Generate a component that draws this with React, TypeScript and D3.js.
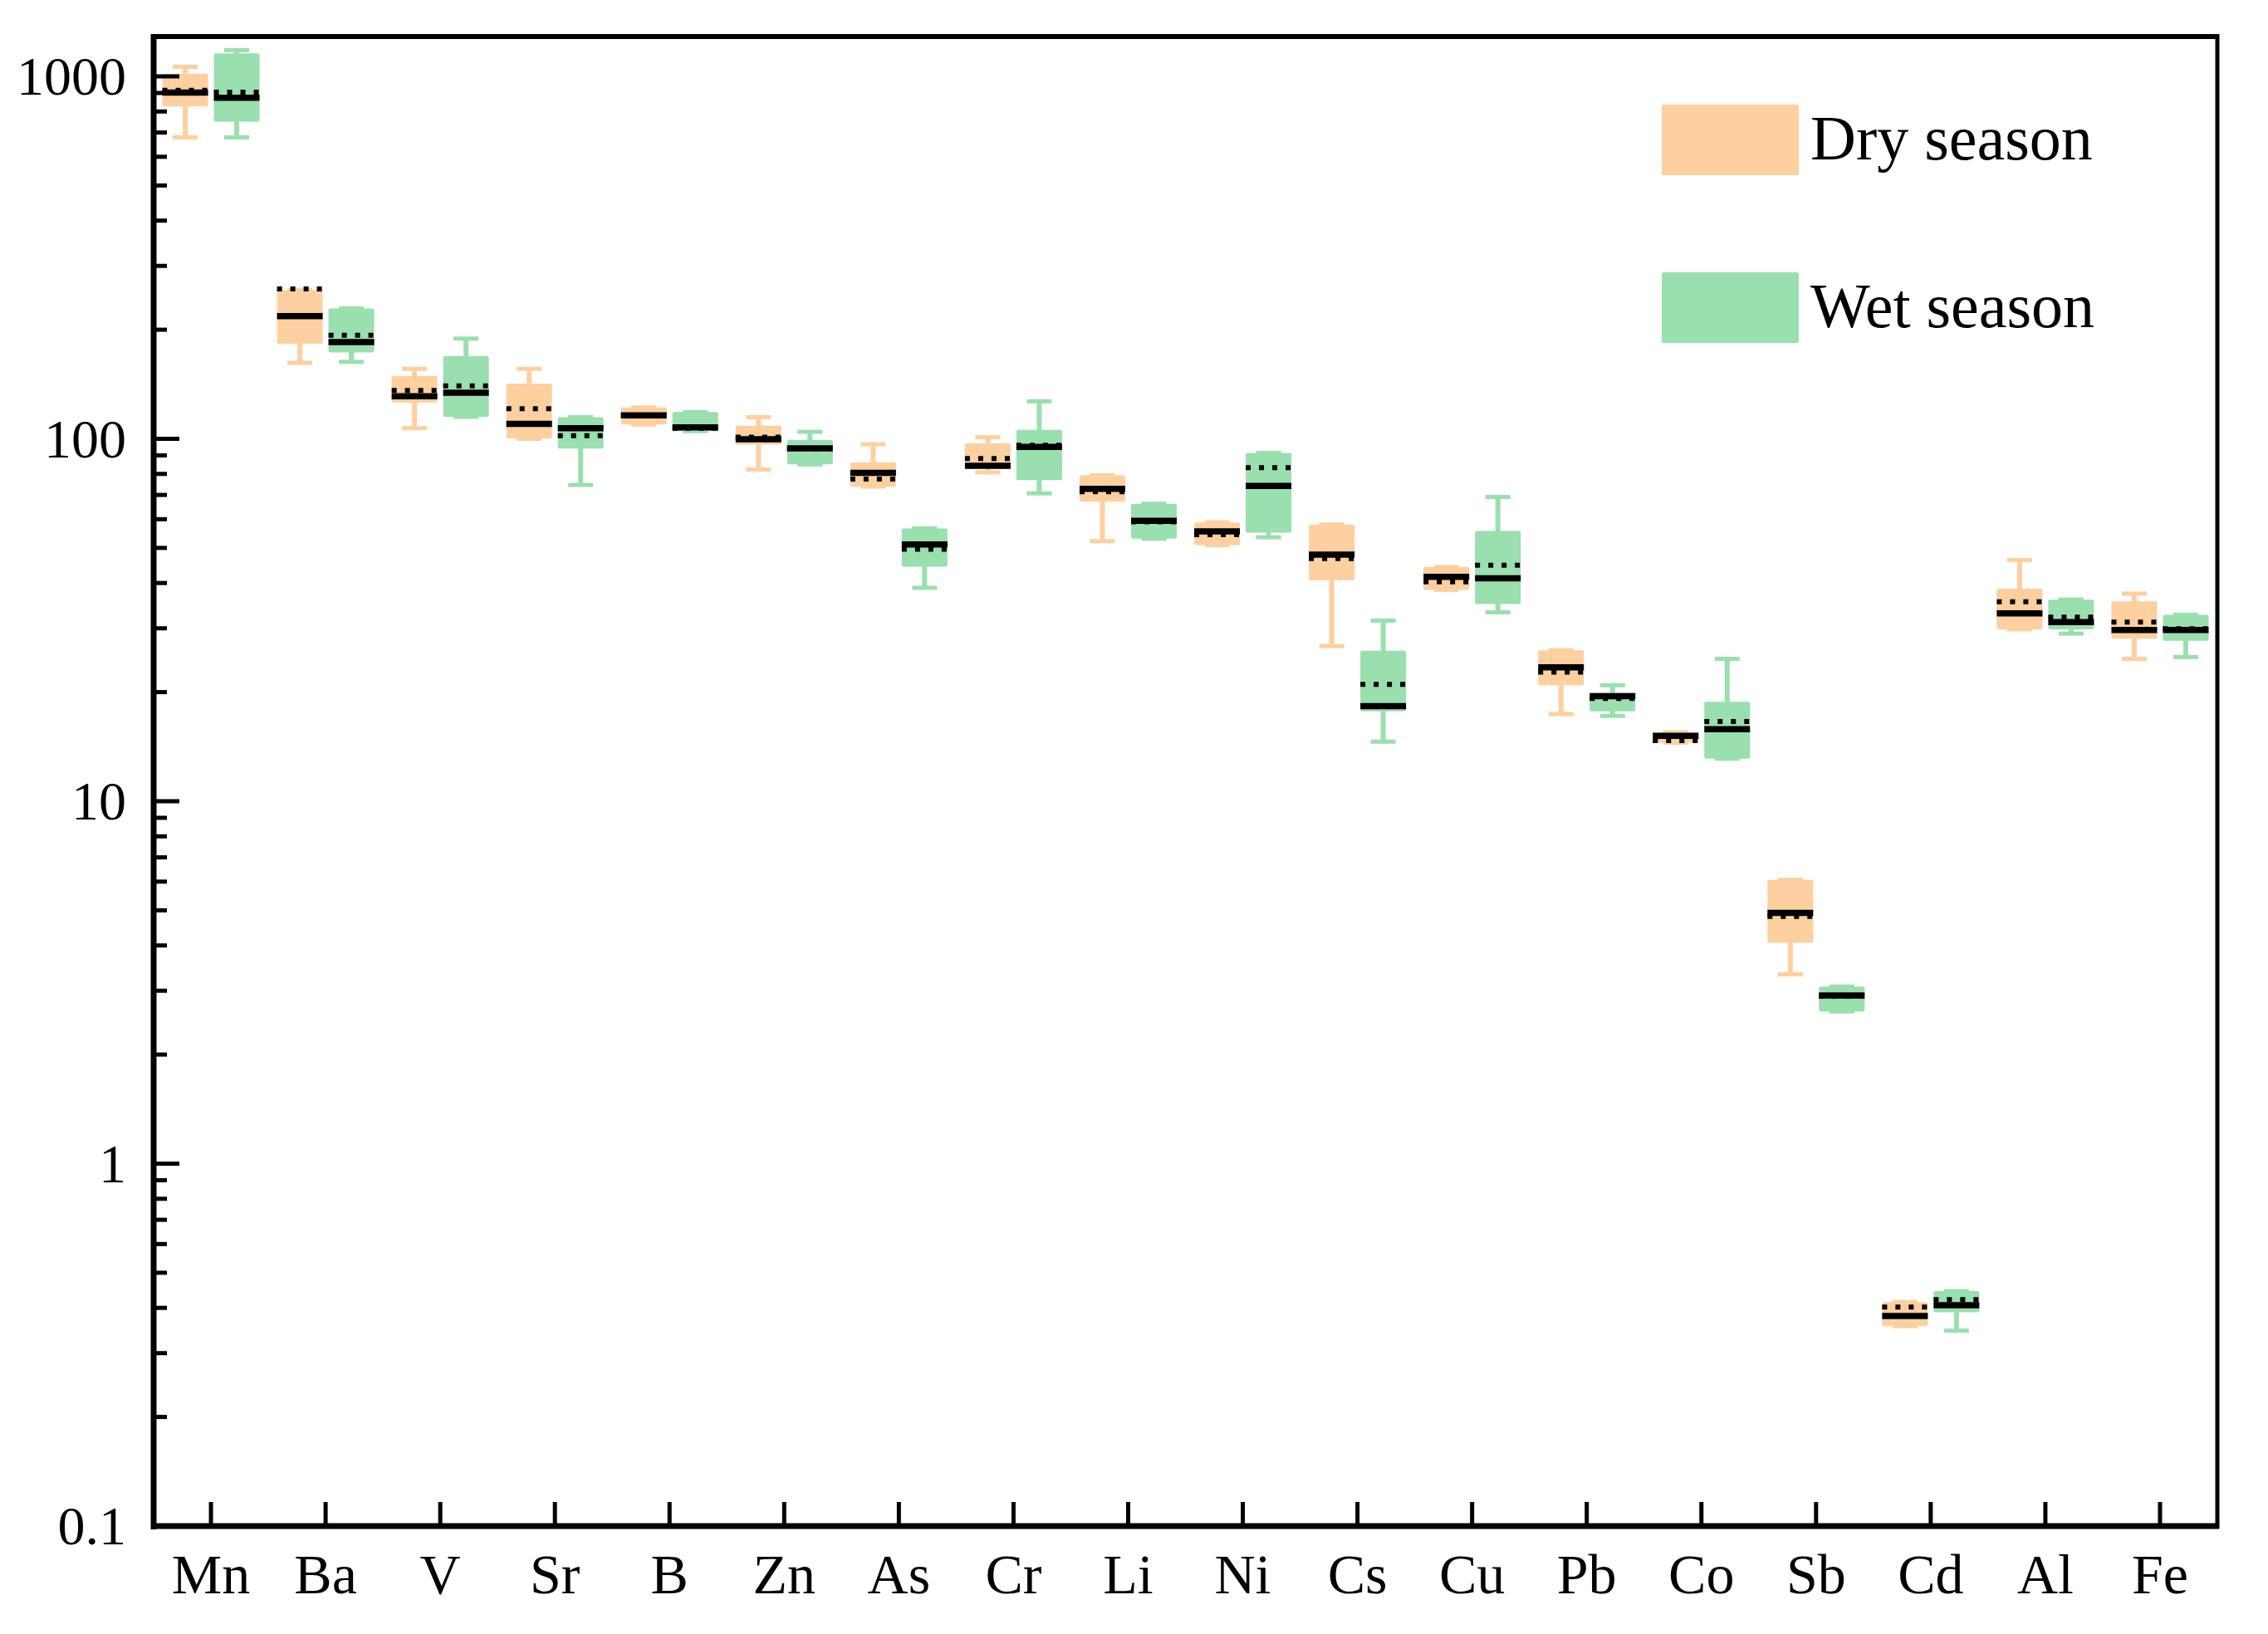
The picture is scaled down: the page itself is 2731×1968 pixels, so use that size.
import React, { useRef, useEffect } from "react";
import * as d3 from "d3";

const elements = ["Mn", "Ba", "V", "Sr", "B", "Zn", "As", "Cr", "Li", "Ni", "Cs", "Cu", "Pb", "Co", "Sb", "Cd", "Al", "Fe"];

// dry season
const dryLow = [679, 162, 107, 100, 109.5, 82.3, 73.8, 80.8, 52.2, 50.9, 26.8, 38.3, 17.4, 14.5, 3.33, 0.356, 29.8, 24.7];
const dryQ1 = [826, 183, 126, 100.2, 109.5, 96.4, 73.8, 82.6, 67.1, 50.9, 40.7, 38.3, 20.9, 14.5, 4.07, 0.356, 29.8, 28.1];
const dryMedian = [902, 218, 131, 110, 116, 99.7, 80.5, 84.3, 72.8, 55.5, 47.9, 41.6, 23.4, 15.15, 4.92, 0.38, 33, 29.7];
const dryQ3 = [1017, 257, 149, 142, 122, 108.6, 86, 97.1, 79.3, 58.8, 58, 44.3, 26.1, 15.5, 6.07, 0.415, 38.6, 35.6];
const dryHigh = [1063, 257, 156, 156, 122, 114.7, 96.6, 101, 79.3, 58.8, 58, 44.3, 26.1, 15.5, 6.07, 0.415, 46.3, 37.4];
const dryMean = [915, 259, 136, 121, 116, 101, 77.4, 88.2, 71.4, 54.4, 46.7, 40.3, 22.7, 14.7, 4.81, 0.402, 35.5, 31.2];

// wet season
const wetLow = [679, 163, 115, 74.6, 105, 85, 38.8, 70.7, 53, 53.5, 14.6, 33.2, 17.2, 13.1, 2.63, 0.346, 29, 25];
const wetQ1 = [750, 173, 115, 94, 105, 85, 44.4, 76.9, 53, 55.1, 17.7, 35, 17.7, 13.1, 2.63, 0.389, 29.8, 27.7];
const wetMedian = [873, 185, 134, 107, 107.5, 94.1, 51.1, 95, 59.4, 74.1, 18.3, 41.2, 19.5, 15.8, 2.91, 0.407, 31.2, 29.7];
const wetQ3 = [1157, 229, 169, 114.7, 118.5, 99.2, 56.6, 105.8, 66.2, 91.4, 26, 55.7, 19.9, 18.8, 3.08, 0.445, 36, 32.7];
const wetHigh = [1181, 229, 189, 114.7, 118.5, 104.5, 56.6, 126.9, 66.2, 91.4, 31.5, 69.1, 20.9, 24.7, 3.08, 0.445, 36, 32.7];
const wetMean = [905, 193, 140, 102, 107, 94, 49.6, 96, 59, 83.2, 21, 44.8, 19.2, 16.6, 2.9, 0.4216, 32.2, 29.9];

const yTickValues = [0.1, 1, 10, 100, 1000];
const yTickLabels = ["0.1", "1", "10", "100", "1000"];
const seasons = ["Dry season", "Wet season"];
const seasonColors = ["#FECF9F", "#9ADFAE"];

type Box = {
    element: string;
    season: number;
    low: number;
    q1: number;
    median: number;
    q3: number;
    high: number;
    mean: number;
};

const WIDTH = 2731;
const HEIGHT = 1968;

const App: React.FC = () => {
    const svgRef = useRef<SVGSVGElement | null>(null);

    useEffect(() => {
        if (!svgRef.current) return;
        const svg = d3.select(svgRef.current);
        svg.selectAll("*").remove();

        const left = 185, right = 2670, top = 44, bottom = 1838;
        const font = "'Liberation Serif', 'Times New Roman', serif";

        const x = d3.scaleBand().domain(elements).range([left, right]);
        const y = d3.scaleLog().domain([0.1, 1000]).range([bottom, 92]);

        const boxes: Box[] = [];
        elements.forEach((e, i) => {
            boxes.push({ element: e, season: 0, low: dryLow[i], q1: dryQ1[i], median: dryMedian[i], q3: dryQ3[i], high: dryHigh[i], mean: dryMean[i] });
            boxes.push({ element: e, season: 1, low: wetLow[i], q1: wetQ1[i], median: wetMedian[i], q3: wetQ3[i], high: wetHigh[i], mean: wetMean[i] });
        });

        const boxW = 55;
        const capW = 30;
        const cx = (b: Box) => (x(b.element) as number) + x.bandwidth() / 2 + (b.season === 0 ? -31 : 31);

        const g = svg.append("g");
        const bg = g.selectAll("g.box").data(boxes).enter().append("g").attr("class", "box");

        // whiskers
        bg.append("line")
            .attr("x1", cx).attr("x2", cx)
            .attr("y1", d => y(d.high)).attr("y2", d => y(d.low))
            .attr("stroke", d => seasonColors[d.season])
            .attr("stroke-width", 6);
        bg.append("line")
            .attr("x1", d => cx(d) - capW / 2).attr("x2", d => cx(d) + capW / 2)
            .attr("y1", d => y(d.high)).attr("y2", d => y(d.high))
            .attr("stroke", d => seasonColors[d.season])
            .attr("stroke-width", 5);
        bg.append("line")
            .attr("x1", d => cx(d) - capW / 2).attr("x2", d => cx(d) + capW / 2)
            .attr("y1", d => y(d.low)).attr("y2", d => y(d.low))
            .attr("stroke", d => seasonColors[d.season])
            .attr("stroke-width", 5);

        // box
        bg.append("rect")
            .attr("x", d => cx(d) - boxW / 2)
            .attr("width", boxW)
            .attr("y", d => y(d.q3))
            .attr("height", d => Math.max(1, y(d.q1) - y(d.q3)))
            .attr("rx", 2)
            .attr("fill", d => seasonColors[d.season]);

        // median
        bg.append("line")
            .attr("x1", d => cx(d) - boxW / 2).attr("x2", d => cx(d) + boxW / 2)
            .attr("y1", d => y(d.median)).attr("y2", d => y(d.median))
            .attr("stroke", "#000")
            .attr("stroke-width", 7.5);

        // mean (dotted)
        bg.append("line")
            .attr("x1", d => cx(d) - boxW / 2).attr("x2", d => cx(d) + boxW / 2)
            .attr("y1", d => y(d.mean)).attr("y2", d => y(d.mean))
            .attr("stroke", "#000")
            .attr("stroke-width", 6)
            .attr("stroke-dasharray", "6 10");

        // -----------------------------
        // Axes / frame
        // -----------------------------
        const axes = svg.append("g");

        // minor y ticks
        const minor: number[] = [];
        [0.1, 1, 10, 100].forEach(d => {
            for (let k = 2; k <= 9; k++) minor.push(d * k);
        });
        axes.selectAll("line.minor").data(minor).enter().append("line")
            .attr("x1", left).attr("x2", left + 16)
            .attr("y1", d => y(d)).attr("y2", d => y(d))
            .attr("stroke", "#000").attr("stroke-width", 5);
        axes.selectAll("line.major").data(yTickValues).enter().append("line")
            .attr("x1", left).attr("x2", left + 31)
            .attr("y1", d => y(d)).attr("y2", d => y(d))
            .attr("stroke", "#000").attr("stroke-width", 5);
        axes.selectAll("text.ylab").data(yTickValues).enter().append("text")
            .attr("x", 152)
            .attr("y", d => y(d))
            .attr("dy", "0.34em")
            .attr("text-anchor", "end")
            .attr("font-family", font)
            .attr("font-size", 66)
            .text((_, i) => yTickLabels[i]);

        // x ticks
        axes.selectAll("line.xtick").data(elements).enter().append("line")
            .attr("x1", d => (x(d) as number) + x.bandwidth() / 2)
            .attr("x2", d => (x(d) as number) + x.bandwidth() / 2)
            .attr("y1", bottom).attr("y2", bottom - 29)
            .attr("stroke", "#000").attr("stroke-width", 5);
        axes.selectAll("text.xlab").data(elements).enter().append("text")
            .attr("x", d => (x(d) as number) + x.bandwidth() / 2)
            .attr("y", 1919)
            .attr("text-anchor", "middle")
            .attr("font-family", font)
            .attr("font-size", 68)
            .text(d => d);

        // frame
        axes.append("line").attr("x1", left).attr("x2", right + 2).attr("y1", top).attr("y2", top)
            .attr("stroke", "#000").attr("stroke-width", 6);
        axes.append("line").attr("x1", right).attr("x2", right).attr("y1", top - 3).attr("y2", bottom + 3)
            .attr("stroke", "#000").attr("stroke-width", 5);
        axes.append("line").attr("x1", left).attr("x2", right + 2).attr("y1", bottom).attr("y2", bottom)
            .attr("stroke", "#000").attr("stroke-width", 7);
        axes.append("line").attr("x1", left).attr("x2", left).attr("y1", top - 3).attr("y2", bottom + 4)
            .attr("stroke", "#000").attr("stroke-width", 7);

        // -----------------------------
        // Legend
        // -----------------------------
        const legend = svg.append("g");
        const legendY = [126, 328];
        seasons.forEach((s, i) => {
            legend.append("rect")
                .attr("x", 2001).attr("y", legendY[i])
                .attr("width", 165).attr("height", 85)
                .attr("rx", 2)
                .attr("fill", seasonColors[i]);
            legend.append("text")
                .attr("x", 2180).attr("y", legendY[i] + 66)
                .attr("font-family", font)
                .attr("font-size", 76)
                .text(s);
        });
    }, []);

    return (
        <svg
            ref={svgRef}
            width={WIDTH}
            height={HEIGHT}
            style={{ position: "absolute", left: 0, top: 0, background: "#fff" }}
        />
    );
};

export default App;
